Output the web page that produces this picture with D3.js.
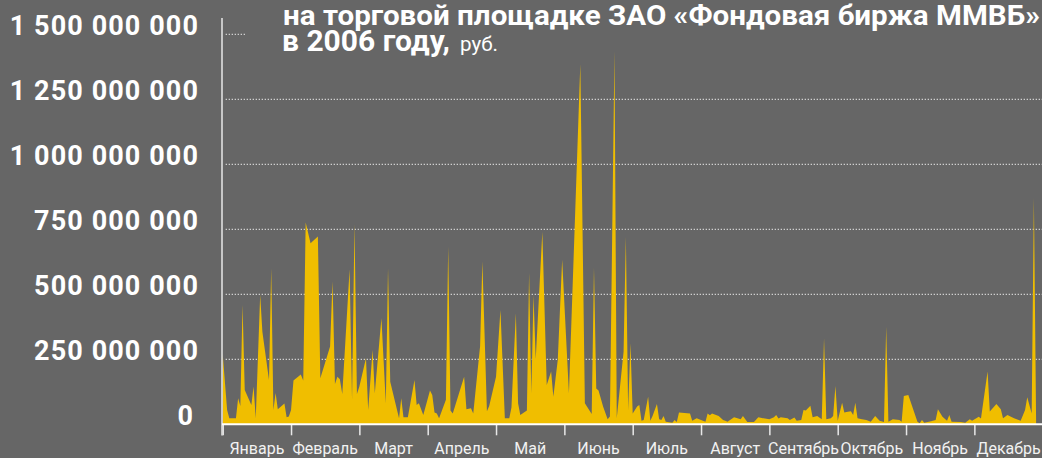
<!DOCTYPE html>
<html>
<head>
<meta charset="utf-8">
<script src="https://cdn.jsdelivr.net/npm/d3@7"></script>
<style>
  html, body { margin: 0; padding: 0; background: #666666; }
  svg { display: block; }
</style>
</head>
<body>
<svg id="chart" width="1042" height="458"></svg>
<script>
// Trading dates (2006) and daily turnover, millions of rubles
const dates = [
  "01-01","01-03","01-04","01-07","01-08","01-09","01-10","01-11","01-14","01-15","01-16","01-18","01-19","01-22","01-23","01-24","01-25","01-26","01-29","01-30","01-31",
  "02-01","02-02","02-05","02-06","02-07","02-09","02-12","02-13","02-17","02-18","02-19","02-20","02-21","02-22","02-25","02-26","02-27","02-28",
  "03-01","03-04","03-05","03-07","03-08","03-11","03-13","03-14","03-15","03-19","03-20","03-21","03-23","03-26","03-27","03-28","03-30",
  "04-02","04-03","04-04","04-05","04-06","04-09","04-10","04-11","04-12","04-17","04-18","04-20","04-21","04-24","04-25","04-27","04-28",
  "05-01","05-03","05-05","05-07","05-08","05-10","05-11","05-12","05-15","05-16","05-17","05-18","05-19","05-22","05-24","05-26","05-27","05-29","05-31",
  "06-03","06-08","06-10","06-13","06-14","06-15","06-16","06-18","06-20","06-21","06-23","06-24","06-27","06-28","06-29","06-30",
  "07-01","07-03","07-04","07-05","07-06","07-08","07-09","07-10","07-12","07-13","07-14","07-15","07-16","07-19","07-20","07-21","07-22","07-27","07-28","07-30",
  "08-01","08-03","08-04","08-05","08-06","08-09","08-11","08-12","08-13","08-16","08-19","08-20","08-22","08-25","08-27","08-30",
  "09-01","09-03","09-04","09-05","09-06","09-09","09-10","09-12","09-13","09-15","09-16","09-17","09-19","09-20","09-22","09-24","09-25","09-26","09-28","09-29","09-30",
  "10-01","10-03","10-04","10-05","10-07","10-08","10-09","10-10","10-12","10-14","10-16","10-18","10-20","10-22","10-23","10-24","10-26","10-29","10-30","10-31",
  "11-02","11-06","11-07","11-08","11-09","11-12","11-14","11-15","11-17","11-19","11-20","11-21","11-25","11-27","11-29","11-30",
  "12-03","12-04","12-07","12-08","12-11","12-13","12-14","12-16","12-19","12-22","12-24","12-25","12-27","12-28","12-29"
];
const turnoverMln = [
  270,55,23,23,100,70,459,132,74,145,23,497,356,170,600,55,120,58,80,27,30,
  55,168,192,168,776,696,722,177,299,549,155,183,173,117,596,94,770,117,
  145,254,55,286,119,408,81,600,164,23,100,27,27,170,74,81,36,
  130,113,45,42,23,94,683,53,42,183,58,62,42,300,626,50,70,
  183,440,23,23,65,427,81,36,53,582,119,497,250,740,151,203,106,247,633,
  119,1385,81,40,602,138,130,68,19,30,1435,23,279,720,55,312,
  42,68,74,14,17,106,14,32,78,19,17,32,10,6,17,9,45,42,14,23,
  17,10,42,35,42,32,17,14,10,27,19,32,9,9,27,22,
  19,27,36,22,27,23,17,26,14,17,55,53,71,27,32,19,331,19,23,32,147,
  14,83,45,47,50,36,83,23,19,17,10,32,14,9,375,10,19,17,10,109,
  113,10,4,17,6,12,17,58,29,14,36,10,9,6,19,14,
  29,22,203,49,78,58,23,36,23,14,55,104,42,870,20
];
const monthNames = ["Январь","Февраль","Март","Апрель","Май","Июнь","Июль","Август","Сентябрь","Октябрь","Ноябрь","Декабрь"];
const yTicks = [0, 250, 500, 750, 1000, 1250, 1500];
const titleLine2 = "на торговой площадке ЗАО «Фондовая биржа ММВБ»";
const titleLine3 = "в 2006 году,";
const titleUnit = "руб.";

const BG = "#666666", YELLOW = "#f0be00", WHITE = "#ffffff";
const parse = d3.timeParse("%Y-%m-%d");
const data = dates.map((d, i) => ({ date: parse("2006-" + d), v: turnoverMln[i] }));

const svg = d3.select("#chart");
const plotL = 222.7, plotR = 1042.7, plotB = 424.3, plotT = 34.3;

// Each month gets an equal share of the axis
const monthStarts = d3.range(13).map(m => new Date(2006, m, 1));
const step = (plotR - plotL) / 12;
const x = d3.scaleTime()
  .domain(monthStarts)
  .range(monthStarts.map((_, i) => plotL + i * step));
const y = d3.scaleLinear().domain([0, 1500]).range([plotB, plotT]);

// dotted gridlines
svg.append("g").selectAll("line")
  .data(yTicks.filter(t => t > 0))
  .join("line")
  .attr("x1", plotL + 3).attr("x2", 1042)
  .attr("y1", d => y(d)).attr("y2", d => y(d))
  .attr("stroke", "#dcdcdc").attr("stroke-width", 1.2)
  .attr("stroke-dasharray", "1.2,1.8");

// title block background
svg.append("rect")
  .attr("x", 246).attr("y", 0).attr("width", 1042 - 246).attr("height", 50)
  .attr("fill", BG);

// turnover area
const area = d3.area()
  .x(d => x(d.date))
  .y0(y(0))
  .y1(d => y(d.v));
svg.append("path").datum(data)
  .attr("d", area)
  .attr("fill", YELLOW);

// y axis labels
const fmt = v => d3.format(",")(v * 1e6).replace(/,/g, " ");
const yAxis = svg.append("g")
  .attr("transform", "translate(199,0)")
  .call(d3.axisLeft(y).tickValues(yTicks).tickSize(0).tickPadding(0).tickFormat(fmt));
yAxis.select(".domain").remove();
yAxis.selectAll("text")
  .attr("dy", "0")
  .attr("x", d => d === 0 ? -5 : 0)
  .attr("fill", WHITE)
  .style("font-family", "Roboto, 'DejaVu Sans', sans-serif")
  .style("font-weight", "700")
  .style("font-size", "27px")
  .style("letter-spacing", "1.1px");

// vertical axis line
svg.append("line")
  .attr("x1", 222).attr("x2", 222).attr("y1", 18).attr("y2", 435.5)
  .attr("stroke", "#e8e8e8").attr("stroke-width", 1.5);

// baseline and month ticks
const xAxis = svg.append("g")
  .attr("transform", `translate(0,${plotB})`)
  .call(d3.axisBottom(x).tickValues(monthStarts).tickSize(11).tickFormat(""));
xAxis.select(".domain").remove();
xAxis.selectAll("line").attr("stroke", "#e8e8e8").attr("stroke-width", 1.5);
svg.append("line")
  .attr("x1", 222).attr("x2", 1042).attr("y1", plotB).attr("y2", plotB)
  .attr("stroke", WHITE).attr("stroke-width", 2);

// month labels, centred in each month
svg.append("g").selectAll("text")
  .data(monthNames)
  .join("text")
  .attr("x", (d, i) => (x(monthStarts[i]) + x(monthStarts[i + 1])) / 2)
  .attr("y", 454)
  .attr("text-anchor", "middle")
  .attr("fill", "#f2f2f2")
  .style("font-family", "Roboto, 'DejaVu Sans', sans-serif")
  .style("font-size", "16px")
  .text(d => d);

// title
const tf = "Roboto, 'DejaVu Sans', sans-serif";
svg.append("text")
  .attr("x", 283).attr("y", 25)
  .attr("fill", WHITE)
  .attr("textLength", 757).attr("lengthAdjust", "spacingAndGlyphs")
  .style("font-family", tf).style("font-weight", "700").style("font-size", "28px")
  .text(titleLine2);
svg.append("text")
  .attr("x", 282).attr("y", 51)
  .attr("fill", WHITE)
  .attr("textLength", 168).attr("lengthAdjust", "spacingAndGlyphs")
  .style("font-family", tf).style("font-weight", "700").style("font-size", "29px")
  .text(titleLine3);
svg.append("text")
  .attr("x", 460).attr("y", 51)
  .attr("fill", WHITE)
  .attr("textLength", 38).attr("lengthAdjust", "spacingAndGlyphs")
  .style("font-family", tf).style("font-weight", "400").style("font-size", "21px")
  .text(titleUnit);
</script>
</body>
</html>
